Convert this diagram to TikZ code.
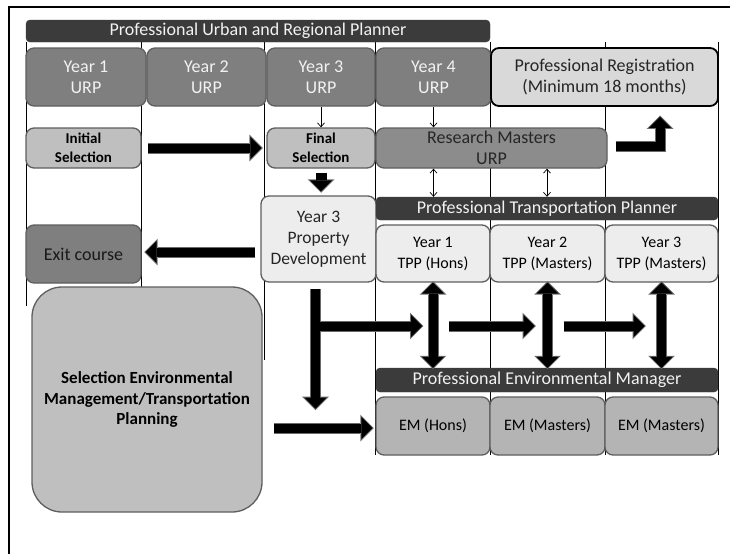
\documentclass[tikz,border=0pt]{standalone}
\usepackage{fontspec}
\setmainfont{Carlito}
\usetikzlibrary{arrows.meta,calc}
\definecolor{bardark}{HTML}{3B3B3B}
\definecolor{urpgray}{HTML}{7F7F7F}
\definecolor{resgray}{HTML}{8C8C8C}
\definecolor{selgray}{HTML}{BFBFBF}
\definecolor{emgray}{HTML}{B4B4B4}
\definecolor{regfill}{HTML}{D9D9D9}
\definecolor{lightbox}{HTML}{EDEDED}
\definecolor{boxline}{HTML}{5E5E5E}
\definecolor{rim}{HTML}{6A6A6A}
\tikzset{
  bigtip/.tip = {Triangle[length=11pt,width=22pt,line width=0pt]},
  rimtip/.tip = {Triangle[length=13.4pt,width=26.8pt,line width=0pt]},
  smalltip/.tip = {Straight Barb[length=4pt,width=7pt]},
  colline/.style = {line width=0.8pt},
  bar/.style = {draw=bardark, fill=bardark, text=white!95!black, rounded corners=4pt,
    inner sep=0pt, font=\fontsize{18}{21}\selectfont},
  box/.style = {draw=boxline, line width=1.3pt, rounded corners=8pt, inner sep=0pt,
    align=center, font=\fontsize{18}{21}\selectfont},
  urpbox/.style = {box, fill=urpgray, text=white!95!black, minimum height=58pt},
  selbox/.style = {box, fill=selgray, minimum height=40pt, font=\bfseries\fontsize{15}{19}\selectfont},
  tppbox/.style = {box, fill=lightbox, minimum height=57pt, font=\fontsize{16}{21}\selectfont},
  embox/.style = {box, fill=emgray, minimum height=58pt, font=\fontsize{16}{21}\selectfont},
  thin/.style = {line width=0.7pt, -smalltip},
  block/.style = {line width=9pt, -bigtip,
    preaction={draw=rim, line width=11pt, -rimtip, shorten >=-1.4pt}},
  dblock/.style = {line width=9pt, bigtip-bigtip,
    preaction={draw=rim, line width=11pt, rimtip-rimtip, shorten >=-1.4pt, shorten <=-1.4pt}}
}

\begin{document}
\begin{tikzpicture}[x=1pt,y=-1pt]
  \useasboundingbox (0,0) rectangle (730,554);
  \draw[line width=2pt] (9,554) -- (9,7) -- (730,7);
  % column rules
  \foreach \x/\y in {26/306, 141.5/288, 264/360, 375.5/455, 490/455, 605/455, 718/455}
    \draw[colline] (\x,42) -- (\x,\y);

  % urban and regional planner
  \node[bar, minimum width=464pt, minimum height=22pt] (urp) at (258,31) {Professional Urban and Regional Planner};
  \node[urpbox, minimum width=120pt] (y1) at (86,77) {Year 1\\URP};
  \node[urpbox, minimum width=119pt] (y2) at (206.5,77) {Year 2\\URP};
  \node[urpbox, minimum width=108pt] (y3) at (321,77) {Year 3\\URP};
  \node[urpbox, minimum width=115pt] (y4) at (433.5,77) {Year 4\\URP};
  \node[box, draw=black, line width=1.8pt, fill=regfill, text=black!85, minimum width=227pt, minimum height=58pt] (reg) at (604.5,77) {Professional Registration\\(Minimum 18 months)};

  \node[selbox, minimum width=115pt] (initsel) at (83.5,148) {Initial\\Selection};
  \node[selbox, minimum width=108pt] (finalsel) at (321,148) {Final\\Selection};
  \node[box, fill=resgray, text=black!85, minimum width=231pt, minimum height=40pt] (resmast) at (491.5,148) {Research Masters\\URP};

  \node[box, fill=lightbox, text=black!85, minimum width=115pt, minimum height=86pt, font=\fontsize{17.5}{21}\selectfont] (propdev) at (318.5,239) {Year 3\\Property\\Development};
  \node[box, fill=urpgray, text=black!90, minimum width=115pt, minimum height=58pt] (exit) at (83.5,254) {Exit course};

  % transportation planner
  \node[bar, minimum width=342pt, minimum height=23pt] (ptp) at (547,208.5) {Professional Transportation Planner};
  \node[tppbox, minimum width=114pt] (tpp1) at (433,253.5) {Year 1\\TPP (Hons)};
  \node[tppbox, minimum width=115pt] (tpp2) at (547.5,253.5) {Year 2\\TPP (Masters)};
  \node[tppbox, minimum width=113pt] (tpp3) at (661.5,253.5) {Year 3\\TPP (Masters)};

  % environmental manager
  \node[bar, minimum width=342pt, minimum height=24pt] (pem) at (547,380) {Professional Environmental Manager};
  \node[embox, minimum width=114pt] (em1) at (433,426) {EM (Hons)};
  \node[embox, minimum width=115pt] (em2) at (547.5,426) {EM (Masters)};
  \node[embox, minimum width=113pt] (em3) at (661.5,426) {EM (Masters)};

  \node[box, fill=selgray, rounded corners=30pt, minimum width=230pt, minimum height=225pt,
    font=\bfseries\fontsize{17}{20.5}\selectfont] (bigbox) at (147,399.5)
    {Selection Environmental\\Management/Transportation\\Planning};

  % thin arrows
  \draw[thin] (y3.south) -- (finalsel.north);
  \draw[thin] (y4.south) -- (y4.south |- resmast.north);
  \draw[thin, smalltip-smalltip] (y4.south |- resmast.south) -- (y4.south |- ptp.north);
  \draw[thin, smalltip-smalltip] (ptp.north |- resmast.south) -- (ptp.north);

  % block arrows
  \coordinate (fsdown) at ($(finalsel.south)+(0,4)$);
  \coordinate (pdup) at ($(finalsel.south |- propdev.north)+(0,-4)$);
  \coordinate (pdleft) at ($(propdev.west |- exit.east)+(-5,-2)$);
  \coordinate (exright) at ($(exit.east)+(4,-2)$);
  \coordinate (rmout) at ($(resmast.east)+(8,-2)$);
  \coordinate (regup) at ($(reg.south)+(55.5,10)$);
  \coordinate (tstart) at ($(propdev.south)+(-3,6)$);
  \coordinate (tend) at ($(propdev.south)+(-3,126)$);
  \coordinate (tjoin) at (320,326);
  \draw[block] ($(initsel.east)+(6,0)$) -- ($(finalsel.west)+(-5,0)$);
  \draw[block, line width=11pt] (fsdown) -- (pdup);
  \draw[block] (pdleft) -- (exright);
  \draw[block, line join=miter] (rmout) -| (regup);
  \draw[block] (tstart) -- (tend);
  \draw[block] (tjoin) -- ($(tpp1.south |- tjoin)+(-11,0)$);
  \draw[block] ($(tpp1.south |- tjoin)+(16,0)$) -- ($(tpp2.south |- tjoin)+(-13,0)$);
  \draw[block] ($(tpp2.south |- tjoin)+(16,0)$) -- ($(tpp3.south |- tjoin)+(-17,0)$);
  \foreach \t in {tpp1,tpp2,tpp3}
    \draw[dblock] (\t.south) -- (\t.south |- pem.north);
  \draw[block] ($(bigbox.east |- em1.west)+(11,2)$) -- ($(em1.west)+(-3,2)$);
\end{tikzpicture}
\end{document}
